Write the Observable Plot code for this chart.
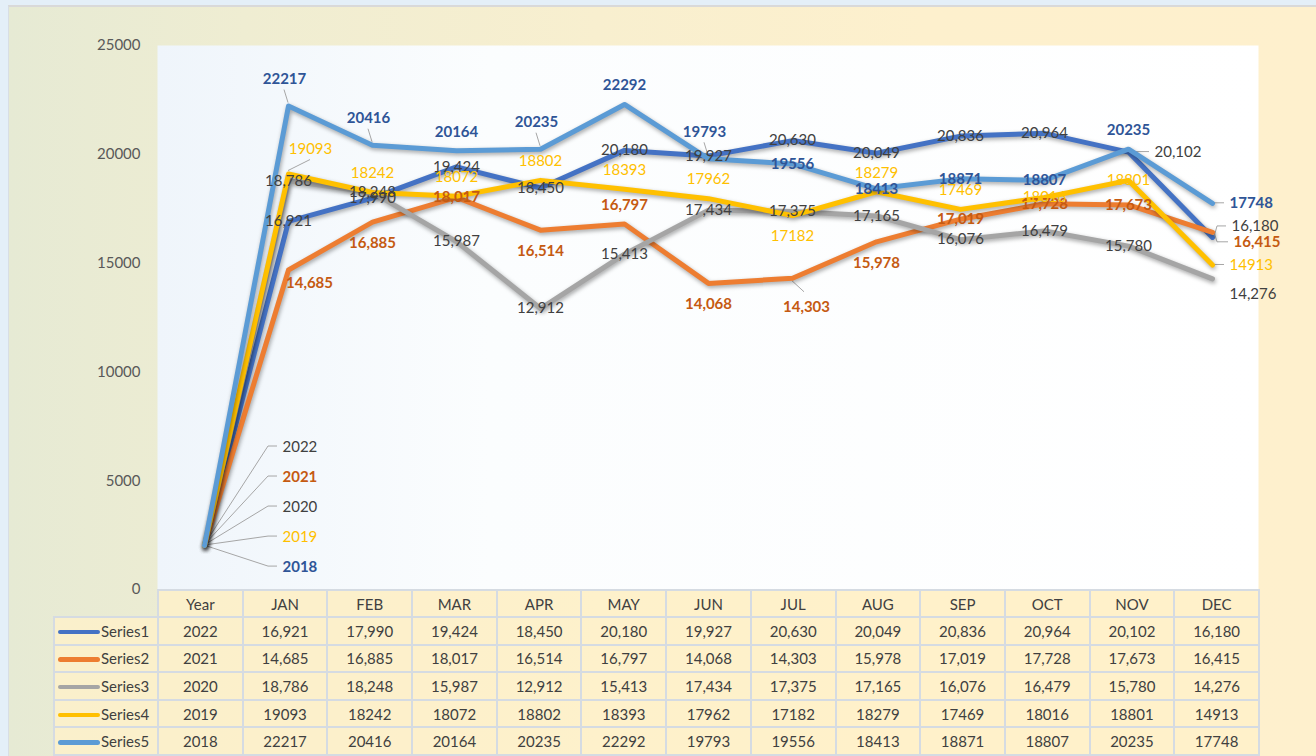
<!DOCTYPE html>
<html><head><meta charset="utf-8">
<script src="https://cdn.jsdelivr.net/npm/d3@7"></script>
<script src="https://cdn.jsdelivr.net/npm/@observablehq/plot@0.6"></script>
<style>
html,body{margin:0;padding:0;}
body{width:1316px;height:756px;overflow:hidden;background:#e4eff8;font-family:Lato,sans-serif;}
#wrap{position:relative;width:1316px;height:756px;}
#box{position:absolute;left:8px;top:5px;width:1308px;height:751px;box-sizing:border-box;border-top:2px solid #d9d9d9;border-left:1px solid #d8dee4;
 background:linear-gradient(90deg,#e6ead4 0%,#efedd2 18%,#f8efcf 45%,#fdf0cd 70%,#fef0cd 100%);}
#chart{position:absolute;left:0;top:0;}
.chart g[aria-label="line"] path{filter:drop-shadow(1.5px 2.5px 2px rgba(0,0,0,0.35));}
#tbl{position:absolute;left:53px;top:589px;border-collapse:collapse;table-layout:fixed;font-family:Lato,sans-serif;font-size:15px;color:#404040;}
#tbl td{border:2px solid #d5dbe2;background:rgba(255,241,201,0.78);text-align:center;padding:0;white-space:nowrap;overflow:hidden;}
#tbl td.blank{border:none;background:transparent;}
#tbl tr.head td{height:25px;}
#tbl tr.body td{height:25.6px;}
#tbl td.leg{text-align:left;padding-left:3px;}
.sw{display:inline-block;width:42px;height:4.5px;border-radius:3px;vertical-align:middle;margin-right:1px;position:relative;top:-1px;}
</style>
</head><body>
<div id="wrap"><div id="box"></div><div id="chart"></div></div>
<script>
// ---- data ----
const categories = ["Year","JAN","FEB","MAR","APR","MAY","JUN","JUL","AUG","SEP","OCT","NOV","DEC"];
const months = categories.slice(1);
const seriesNames = ["Series1","Series2","Series3","Series4","Series5"];
const years = [2022, 2021, 2020, 2019, 2018];
const series1 = [16921,17990,19424,18450,20180,19927,20630,20049,20836,20964,20102,16180];
const series2 = [14685,16885,18017,16514,16797,14068,14303,15978,17019,17728,17673,16415];
const series3 = [18786,18248,15987,12912,15413,17434,17375,17165,16076,16479,15780,14276];
const series4 = [19093,18242,18072,18802,18393,17962,17182,18279,17469,18016,18801,14913];
const series5 = [22217,20416,20164,20235,22292,19793,19556,18413,18871,18807,20235,17748];
const yTicks = [0,5000,10000,15000,20000,25000];

// ---- styles ----
const seriesValues = [series1, series2, series3, series4, series5];
const lineColors = ["#4472C4","#ED7D31","#A5A5A5","#FFC000","#5B9BD5"];
const labelColors = ["#404040","#C55A11","#404040","#FFC000","#2F5597"];
const labelWeights = ["normal","bold","normal","normal","bold"];
const useComma = [true, true, true, false, false];
// label placement codes (Excel-like: c=center, a=above, b=below, r=right ...)
const labelPos = [
  ["c","c","c","c","c","c","c","c","c","c","R","ru"],
  ["br","b","c","b","a","b","B","b","c","c","c","rd"],
  ["c","c","c","c","c","c","c","c","c","c","c","rD"],
  ["Ar","a","a","a","a","a","b","a","a","c","c","r"],
  ["A","A","a","A","a","A","c","c","c","c","a","r"]
];
const placements = {
  c:  {dx:0,  dy:0,   anchor:"middle"},
  a:  {dx:0,  dy:-19, anchor:"middle"},
  A:  {dx:-4, dy:-27, anchor:"middle", leader:"up"},
  b:  {dx:0,  dy:21,  anchor:"middle"},
  B:  {dx:14, dy:29,  anchor:"middle", leader:"down"},
  br: {dx:21, dy:13,  anchor:"middle"},
  Ar: {dx:22, dy:-25, anchor:"middle", leader:"up"},
  r:  {dx:17, dy:0,   anchor:"start", leader:"side"},
  R:  {dx:26, dy:0,   anchor:"start", leader:"side"},
  ru: {dx:19, dy:-11, anchor:"start", leader:"side"},
  rd: {dx:21, dy:10,  anchor:"start", leader:"side"},
  rD: {dx:17, dy:15,  anchor:"start"}
};

const fmtComma = d3.format(",");
const fmtPlain = d => String(d);

const points = [];
seriesNames.forEach((name, i) => {
  points.push({series:name, si:i, cat:"Year", value:years[i], kind:"year"});
  months.forEach((m, j) => points.push({series:name, si:i, cat:m, value:seriesValues[i][j], kind:"month", pos:labelPos[i][j]}));
});

// leader lines drawn with the plot's own scales
function leaders(index, scales) {
  const g = d3.create("svg:g").attr("fill","none").attr("stroke","#a6a6a6").attr("stroke-width",1);
  for (const p of points) {
    const px = scales.x(p.cat), py = scales.y(p.value);
    if (p.kind === "year") {
      const dx = 78, dy = -98 + 30 * p.si;
      g.append("path").attr("d", `M${px},${py}L${px+dx-14},${py+dy-1}L${px+dx-5},${py+dy-1}`);
      continue;
    }
    const pl = placements[p.pos];
    if (!pl.leader) continue;
    let d;
    if (pl.leader === "up") d = `M${px},${py-3}L${px+pl.dx},${py+pl.dy+11}`;
    else if (pl.leader === "down") d = `M${px},${py+3}L${px+pl.dx-2},${py+pl.dy-15}`;
    else d = `M${px+2},${py}L${px+5},${py+pl.dy}L${px+pl.dx-5},${py+pl.dy}`;
    g.append("path").attr("d", d);
  }
  return g.node();
}

function defs() {
  const d = d3.create("svg:defs");
  const lg = d.append("linearGradient").attr("id","plotGrad").attr("x1","0").attr("x2","1").attr("y1","0").attr("y2","0");
  lg.append("stop").attr("offset","0").attr("stop-color","#eff5fb");
  lg.append("stop").attr("offset","0.3").attr("stop-color","#fbfdfe");
  lg.append("stop").attr("offset","1").attr("stop-color","#ffffff");
  return d.node();
}

const labelMarks = [];
seriesNames.forEach((name, i) => {
  for (const code of Object.keys(placements)) {
    const sub = points.filter(p => p.kind === "month" && p.si === i && p.pos === code);
    if (!sub.length) continue;
    const pl = placements[code];
    labelMarks.push(Plot.text(sub, {
      x: "cat", y: "value",
      text: d => (useComma[i] ? fmtComma : fmtPlain)(d.value),
      dx: pl.dx, dy: pl.dy, textAnchor: pl.anchor,
      fill: labelColors[i], fontWeight: labelWeights[i], fontSize: 15
    }));
  }
  const yp = points.filter(p => p.kind === "year" && p.si === i);
  labelMarks.push(Plot.text(yp, {
    x: "cat", y: "value", text: d => String(d.value),
    dx: 78, dy: -98 + 30 * i, textAnchor: "start",
    fill: labelColors[i], fontWeight: labelWeights[i], fontSize: 15
  }));
});

const chart = Plot.plot({
  width: 1316, height: 600,
  marginLeft: 157, marginRight: 58, marginTop: 45, marginBottom: 11,
  className: "chart",
  style: {background: "transparent", fontFamily: "Lato, sans-serif", color: "#595959", overflow: "visible"},
  x: {type: "point", domain: categories, padding: 0.5, axis: null},
  y: {domain: [0, 25000], label: null},
  color: {domain: seriesNames, range: lineColors},
  marks: [
    defs,
    Plot.frame({fill: "url(#plotGrad)", stroke: "none"}),
    Plot.axisY({ticks: yTicks, tickSize: 0, tickPadding: 17, tickFormat: d => String(d), fontSize: 15, label: null}),
    leaders,
    Plot.line(points, {x: "cat", y: "value", z: "series", stroke: "series", strokeWidth: 5, strokeLinejoin: "round", strokeLinecap: "round"}),
    ...labelMarks
  ]
});
document.getElementById("chart").appendChild(chart);

// ---- data table ----
const colW = (1258 - 157) / categories.length;
const tbl = document.createElement("table");
tbl.id = "tbl";
tbl.style.width = (104 + colW * categories.length) + "px";
const cg = document.createElement("colgroup");
const c0 = document.createElement("col"); c0.style.width = "104px"; cg.appendChild(c0);
categories.forEach(() => { const c = document.createElement("col"); c.style.width = colW + "px"; cg.appendChild(c); });
tbl.appendChild(cg);
const head = document.createElement("tr"); head.className = "head";
const blank = document.createElement("td"); blank.className = "blank"; head.appendChild(blank);
categories.forEach(c => { const td = document.createElement("td"); td.textContent = c; head.appendChild(td); });
tbl.appendChild(head);
seriesNames.forEach((name, i) => {
  const tr = document.createElement("tr"); tr.className = "body";
  const leg = document.createElement("td"); leg.className = "leg";
  leg.innerHTML = `<span class="sw" style="background:${lineColors[i]}"></span>${name}`;
  tr.appendChild(leg);
  const vals = [String(years[i]), ...seriesValues[i].map(v => (useComma[i] ? fmtComma : fmtPlain)(v))];
  vals.forEach(v => { const td = document.createElement("td"); td.textContent = v; tr.appendChild(td); });
  tbl.appendChild(tr);
});
document.getElementById("wrap").appendChild(tbl);
</script>
</body></html>
